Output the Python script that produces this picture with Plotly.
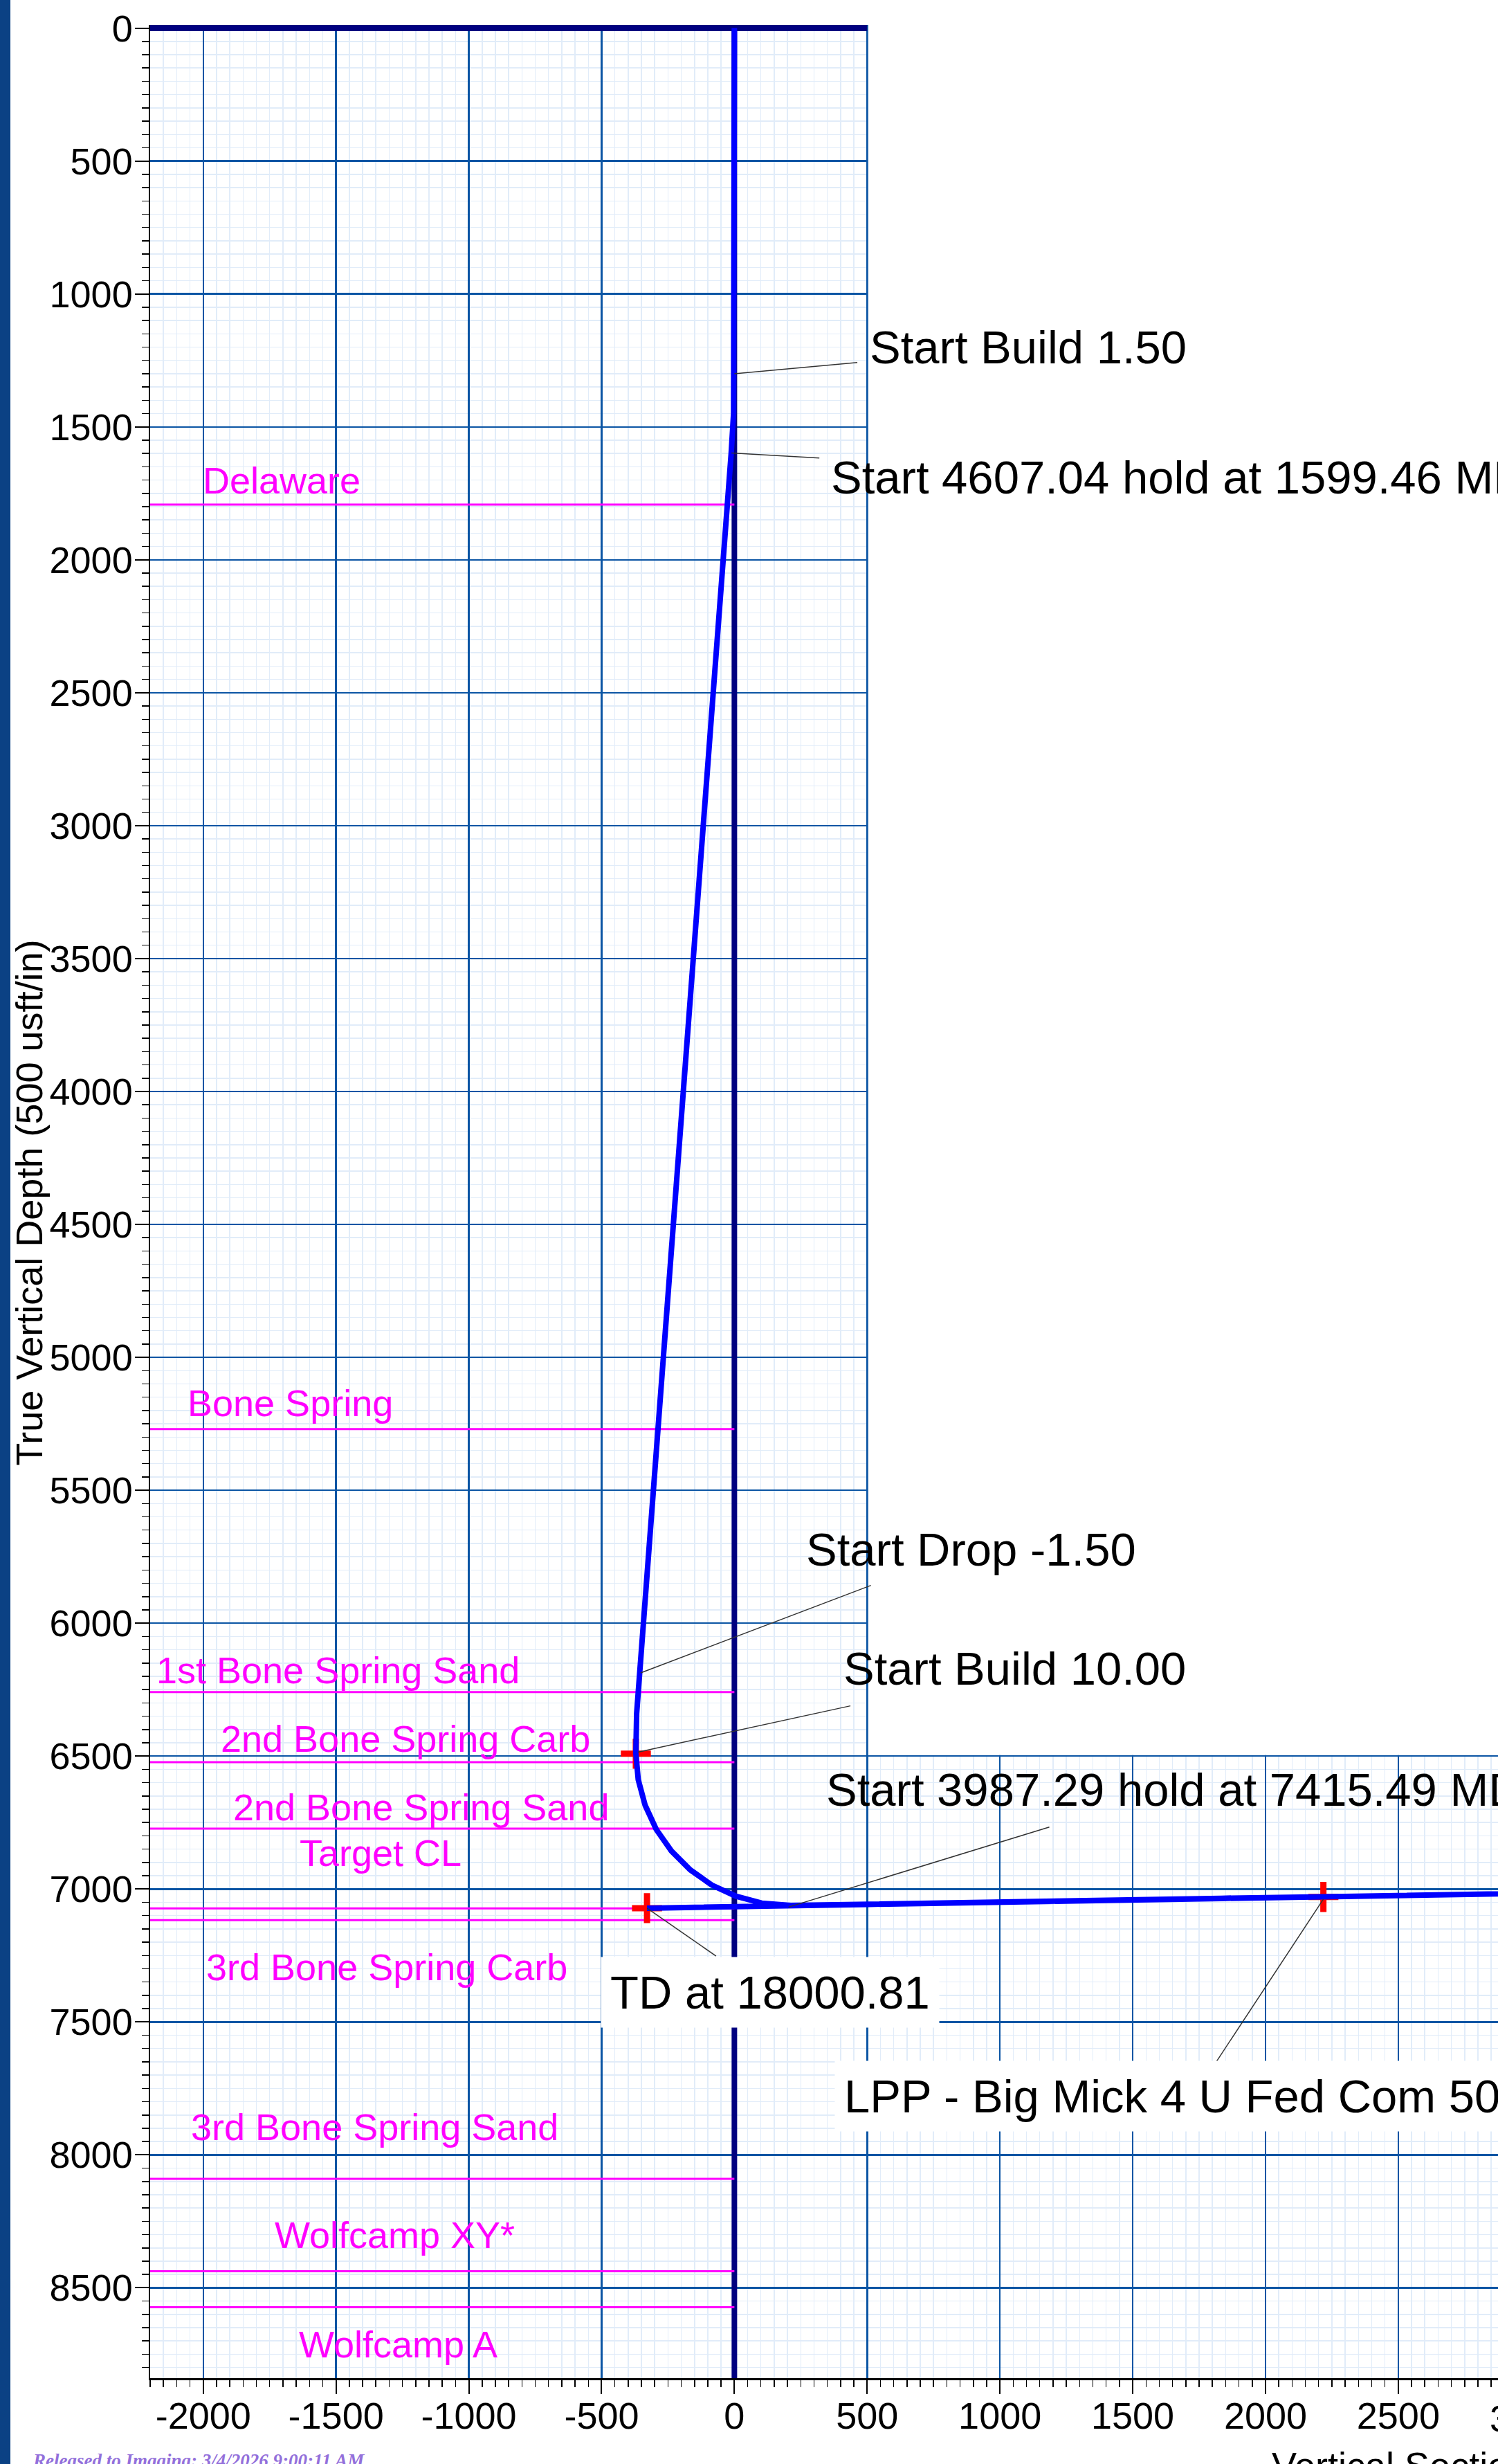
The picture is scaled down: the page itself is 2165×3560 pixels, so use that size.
import plotly.graph_objects as go

# ---------------- data ----------------
# well path (vertical section vs. true vertical depth, usft)
traj_vs = [0, 0, -3, -12, -360, -368, -371, -362, -336, -294, -237, -166, -85, 6, 103, 202, 212,
           2218, 4200, 2218, -329]
traj_tvd = [0, 1300, 1450, 1599, 6190, 6340, 6489, 6589, 6685, 6776, 6857, 6928, 6985, 7027, 7053,
            7062, 7062, 7029, 6996, 7029, 7072]

# red target / point crosses
mark_vs = [-371, -329, 2218]
mark_tvd = [6491, 7072, 7030]

# formation tops
form_names = ["Delaware", "Bone Spring", "1st Bone Spring Sand", "2nd Bone Spring Carb",
              "2nd Bone Spring Sand", "Target CL", "3rd Bone Spring Carb", "3rd Bone Spring Sand",
              "Wolfcamp XY*", "Wolfcamp A"]
form_tvd = [1792, 5270, 6259, 6523, 6773, 7073, 7117, 8090, 8438, 8573]
form_label_vs = [-1705, -1672, -1493, -1238, -1180, -1332, -1308, -1355, -1278, -1266]
form_label_tvd = [1700, 5171, 6177, 6435, 6693, 6865, 7293, 7895, 8301, 8712]

# plan annotations
ann_text = ["Start Build 1.50", "Start 4607.04 hold at 1599.46 MD", "Start Drop -1.50",
            "Start Build 10.00", "Start 3987.29 hold at 7415.49 MD", "TD at 18000.81",
            "LPP - Big Mick 4 U Fed Com 503H"]
ann_vs = [507, 361, 267, 408, 344, -504, 378]
ann_tvd = [1200, 1690, 5721, 6171, 6625, 7388, 7778]
ann_boxed = [False, False, False, False, False, True, True]
lead_vs0 = [0, -11, -353, -363, 204, -329, 2218]
lead_tvd0 = [1300, 1598, 6187, 6485, 7068, 7072, 7038]
lead_vs1 = [463, 320, 514, 437, 1186, -69, 1814]
lead_tvd1 = [1258, 1617, 5858, 6311, 6767, 7252, 7651]

# axis ticks
x_tick_vals = [-2000, -1500, -1000, -500, 0, 500, 1000, 1500, 2000, 2500]
x_tick_text = ["-2000", "-1500", "-1000", "-500", "0", "500", "1000", "1500", "2000", "2500"]
y_tick_vals = [0, 500, 1000, 1500, 2000, 2500, 3000, 3500, 4000, 4500, 5000, 5500, 6000, 6500,
               7000, 7500, 8000, 8500]
y_tick_text = [str(v) for v in y_tick_vals]

# ---------------- layout geometry ----------------
W, H = 2165, 3560
ML, MR, MT, MB = 217, 0, 36.4, 124
PW = W - ML - MR
PH = H - MT - MB
X_MIN = -2200
X_MAX = X_MIN + PW / 0.3838
Y_MIN, Y_MAX = -12, 8840
SECTION_EDGE_VS = 500      # right edge of the upper grid panel
SECTION_EDGE_TVD = 6500    # top of the lower wide grid panel


def px_x(p):
    return (p - ML) / PW


def px_y(p):
    return (H - MB - p) / PH


FONT = "Liberation Sans, Arial, sans-serif"
NAVY = "#000080"
GRID = "#0b55a4"
MINOR = "#e1ecf9"

fig = go.Figure()

for name, tvd in zip(form_names, form_tvd):
    fig.add_trace(go.Scatter(x=[X_MIN, 0], y=[tvd, tvd], mode="lines",
                             line=dict(color="#ff00ff", width=3), hoverinfo="skip"))

fig.add_trace(go.Scatter(x=mark_vs, y=mark_tvd, mode="markers",
                         marker=dict(symbol="cross-thin", size=31,
                                     line=dict(color="#ff0000", width=9)),
                         hoverinfo="skip"))

fig.add_trace(go.Scatter(x=traj_vs, y=traj_tvd, mode="lines",
                         line=dict(color="#0000ff", width=8), hoverinfo="skip"))

shapes = []
# blank area above the lower panel, right of the upper panel
shapes.append(dict(type="rect", xref="x", yref="y", x0=SECTION_EDGE_VS + 4, x1=X_MAX + 200,
                   y0=Y_MIN - 30, y1=SECTION_EDGE_TVD - 4, fillcolor="white",
                   line=dict(width=0), layer="between"))
# reference lines (surface and section origin)
shapes.append(dict(type="line", xref="x", yref="y", x0=0, x1=0, y0=Y_MIN, y1=Y_MAX + 20,
                   line=dict(color=NAVY, width=8), layer="between"))
shapes.append(dict(type="line", xref="x", yref="y", x0=X_MIN, x1=SECTION_EDGE_VS, y0=0, y1=0,
                   line=dict(color=NAVY, width=9), layer="between"))
# leader lines
for a, b, c, d in zip(lead_vs0, lead_tvd0, lead_vs1, lead_tvd1):
    shapes.append(dict(type="line", xref="x", yref="y", x0=a, y0=b, x1=c, y1=d,
                       line=dict(color="#333333", width=1.5), layer="above"))
# left page border strip
shapes.append(dict(type="rect", xref="paper", yref="paper", x0=px_x(0), x1=px_x(15),
                   y0=px_y(H + 5), y1=px_y(-5), fillcolor="#0b4184",
                   line=dict(width=0), layer="above"))

annotations = []
for name, xv, yv in zip(form_names, form_label_vs, form_label_tvd):
    annotations.append(dict(text=name, x=xv, y=yv, xref="x", yref="y", showarrow=False,
                            xanchor="center", yanchor="middle",
                            font=dict(family=FONT, size=54, color="#ff00ff")))
for t, xv, yv, boxed in zip(ann_text, ann_vs, ann_tvd, ann_boxed):
    annotations.append(dict(text=t, x=xv, y=yv, xref="x", yref="y", showarrow=False,
                            xanchor="left", yanchor="middle",
                            bgcolor="white" if boxed else "rgba(0,0,0,0)",
                            borderpad=13 if boxed else 0,
                            font=dict(family=FONT, size=67, color="black")))

annotations.append(dict(text="True Vertical Depth (500 usft/in)", textangle=-90,
                        x=px_x(42), y=px_y(1738), xref="paper", yref="paper",
                        showarrow=False, xanchor="center", yanchor="middle",
                        font=dict(family=FONT, size=54, color="black")))
annotations.append(dict(text="Vertical Section at 90.00\u00b0 (500 usft/in)",
                        x=px_x(1836), y=px_y(3530), xref="paper", yref="paper",
                        showarrow=False, xanchor="left", yanchor="top",
                        font=dict(family=FONT, size=54, color="black")))
annotations.append(dict(text="<b><i>Released to Imaging: 3/4/2026 9:00:11 AM</i></b>",
                        x=px_x(45), y=px_y(3538), xref="paper", yref="paper",
                        showarrow=False, xanchor="left", yanchor="top",
                        font=dict(family="Liberation Serif, Times New Roman, serif", size=27,
                                  color="#9370DB")))
# next tick label, cut by the page edge
annotations.append(dict(text="3000", x=(3000 - X_MIN) / (X_MAX - X_MIN), y=px_y(3462),
                        xref="paper", yref="paper", showarrow=False,
                        xanchor="center", yanchor="top",
                        font=dict(family=FONT, size=54, color="black")))

axis_common = dict(
    tickmode="array", ticks="outside", ticklen=20, tickwidth=2, tickcolor="black",
    showline=True, linecolor="black", linewidth=2.5, showgrid=True, gridcolor=GRID,
    gridwidth=2.5, zeroline=False, automargin=False, fixedrange=True,
    tickfont=dict(family=FONT, size=54, color="black"),
    minor=dict(tick0=0, dtick=50, ticks="outside", ticklen=10, tickwidth=1.5,
               tickcolor="black", showgrid=True, gridcolor=MINOR, gridwidth=1.5),
)

fig.update_layout(
    width=W, height=H, autosize=False,
    margin=dict(l=ML, r=MR, t=MT, b=MB, pad=0),
    paper_bgcolor="white", plot_bgcolor="white",
    showlegend=False,
    xaxis=dict(range=[X_MIN, X_MAX], tickvals=x_tick_vals, ticktext=x_tick_text,
               ticklabelstandoff=-14, **axis_common),
    yaxis=dict(range=[Y_MAX, Y_MIN], tickvals=y_tick_vals, ticktext=y_tick_text,
               ticklabelstandoff=-8, **axis_common),
    shapes=shapes,
    annotations=annotations,
)

fig.write_html("out.html", config={"displayModeBar": False, "staticPlot": True},
               post_script="document.body.style.margin='0';document.body.style.overflow='hidden';")
